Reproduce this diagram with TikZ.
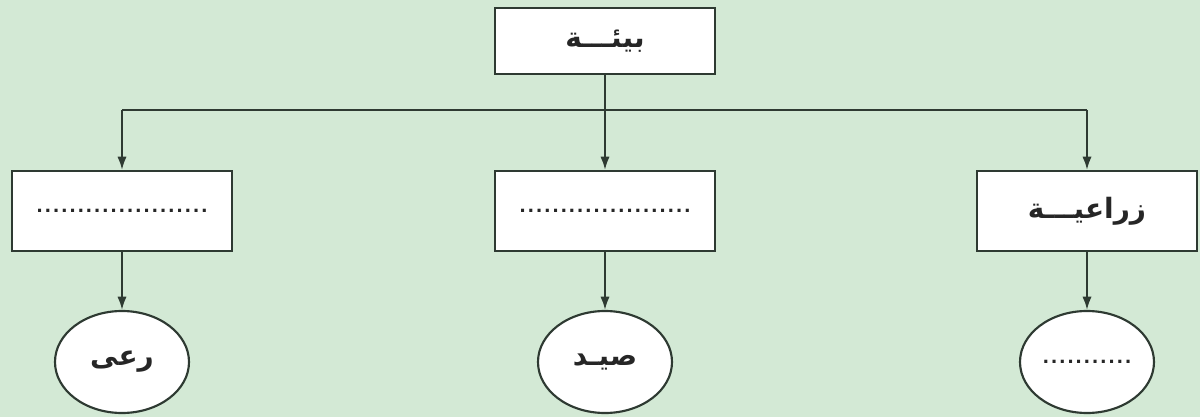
\documentclass[tikz,border=0pt]{standalone}
\usepackage{fontspec}
\newfontfamily\arabicfont[Script=Arabic]{DejaVu Sans}
\TeXXeTstate=1
\usetikzlibrary{arrows.meta,shapes.geometric}
\definecolor{bg}{HTML}{D3E9D5}
\definecolor{ln}{HTML}{2E3A32}
\newcommand{\dotrow}[1]{\hbox to #1{\xleaders\hbox to 6pt{\hss\arabicfont\bfseries\fontsize{13}{13}\selectfont.\hss}\hfill}}
\newcommand{\ar}[1]{{\arabicfont\bfseries\fontsize{21}{24}\selectfont\beginR #1\endR}}
\begin{document}
\begin{tikzpicture}[x=0.75pt,y=-0.75pt,
  box/.style={draw=ln,line width=1.6pt,fill=white,rectangle,minimum width=165pt,minimum height=60pt,inner sep=0pt,text=black!85},
  topbox/.style={box,minimum height=49.5pt},
  oval/.style={draw=ln,line width=1.6pt,fill=white,ellipse,minimum width=100.5pt,minimum height=76.5pt,inner sep=0pt,text=black!85},
  conn/.style={draw=ln,line width=1.5pt},
  arr/.style={conn,-{Latex[length=10pt,width=7pt]}}]
\useasboundingbox (0,0) rectangle (1200,417);
\fill[bg] (0,0) rectangle (1200,417);
\node[topbox] (top) at (605,41) {\ar{بيئـــة}};
\node[box] (lbox) at (122,211) {\dotrow{130pt}};
\node[box] (mbox) at (605,211) {\dotrow{130pt}};
\node[box] (rbox) at (1087,211) {\ar{زراعيـــة}};
\node[oval] (lell) at (122,362) {\ar{رعى}};
\node[oval] (mell) at (605,362) {\ar{صيـد}};
\node[oval] (rell) at (1087,362) {\dotrow{68pt}};
\coordinate (hL) at (122,110);
\coordinate (hR) at (1087,110);
\draw[conn] (top.south) -- (top.south|-hL);
\draw[conn] (hL) -- (hR);
\draw[arr] (hL) -- (lbox.north);
\draw[arr] (top.south|-hL) -- (mbox.north);
\draw[arr] (hR) -- (rbox.north);
\draw[arr] (lbox.south) -- (lell.north);
\draw[arr] (mbox.south) -- (mell.north);
\draw[arr] (rbox.south) -- (rell.north);
\end{tikzpicture}
\end{document}
